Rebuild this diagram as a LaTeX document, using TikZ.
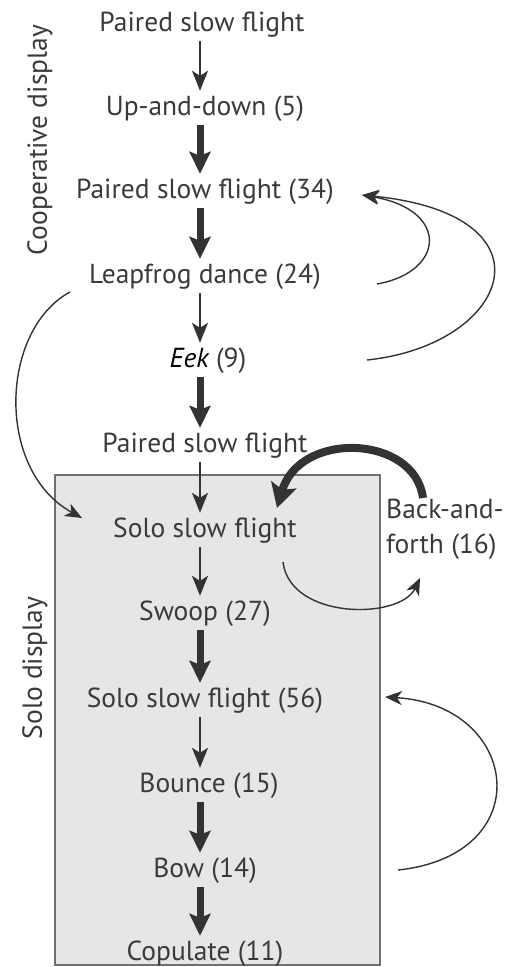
\documentclass[tikz,border=0pt]{standalone}
\usepackage{fontspec}
\setmainfont{PT Sans}
\usetikzlibrary{arrows.meta}
\definecolor{ink}{HTML}{333333}
\definecolor{txt}{HTML}{3A3A3A}
\definecolor{boxfill}{HTML}{E6E6E6}
\definecolor{boxline}{HTML}{707070}
\begin{document}
\begin{tikzpicture}[x=1pt,y=-1pt,
  lbl/.style={font=\fontsize{27.5}{35}\selectfont, text=txt, inner sep=0pt,
    text height=18pt, text depth=6pt, anchor=base},
  side/.style={font=\fontsize{27.5}{35}\selectfont, text=txt, inner sep=0pt, rotate=90},
  thinarrow/.style={draw=ink, line width=1.4pt,
    -{Stealth[length=20pt,width=16pt,inset=5pt]}, shorten <=4pt, shorten >=6pt},
  thickarrow/.style={draw=ink, line width=7pt,
    -{Stealth[length=22pt,width=21pt,inset=4pt]}, shorten <=4pt, shorten >=6pt},
  loop/.style={draw=ink, line width=1.4pt,
    -{Stealth[length=17pt,width=14pt,inset=5pt]}},
  bigloop/.style={draw=ink, line width=8pt,
    -{Stealth[length=24pt,width=26pt,inset=5pt]}},
  region/.style={fill=boxfill, draw=boxline, line width=1.5pt}
]
\useasboundingbox (0,0) rectangle (522,967);
\path[region] (55,475) rectangle (380,965);

\node[lbl] (p0)  at (202,31)  {Paired slow flight};
\node[lbl] (up)  at (205,115) {Up-and-down (5)};
\node[lbl] (p34) at (205,198) {Paired slow flight (34)};
\node[lbl] (lf)  at (205,283) {Leapfrog dance (24)};
\node[lbl] (eek) at (208,367) {{\color{black}\itshape Eek} (9)};
\node[lbl] (p1)  at (205,452) {Paired slow flight};
\node[lbl] (solo) at (205,537) {Solo slow flight};
\node[lbl] (swoop) at (205,620) {Swoop (27)};
\node[lbl] (s56) at (205,707) {Solo slow flight (56)};
\node[lbl] (bounce) at (209,792) {Bounce (15)};
\node[lbl] (bow) at (205,877) {Bow (14)};
\node[lbl] (cop) at (205,960) {Copulate (11)};
\node[lbl, anchor=north west, align=left, text height=, text depth=] (back) at (386,499) {Back-and-\\forth (16)};

\node[side] (coop) at (40,140) {Cooperative display};
\node[side] (solod) at (35,668) {Solo display};

\draw[thinarrow]  ([xshift=-2pt]p0.south) -- ([xshift=-5pt]up.north);
\draw[thickarrow] ([xshift=-5pt]up.south) -- ([xshift=-5pt]p34.north);
\draw[thickarrow] ([xshift=-5pt]p34.south) -- ([xshift=-5pt]lf.north);
\draw[thinarrow]  ([xshift=-5pt]lf.south) -- ([xshift=-8pt]eek.north);
\draw[thickarrow] ([xshift=-8pt]eek.south) -- ([xshift=-5pt]p1.north);
\draw[thinarrow]  ([xshift=-5pt]p1.south) -- ([xshift=-5pt]solo.north);
\draw[thinarrow]  ([xshift=-5pt]solo.south) -- ([xshift=-5pt]swoop.north);
\draw[thickarrow] ([xshift=-5pt]swoop.south) -- ([xshift=-5pt]s56.north);
\draw[thinarrow]  ([xshift=-5pt]s56.south) -- ([xshift=-9pt]bounce.north);
\draw[thickarrow] ([xshift=-9pt]bounce.south) -- ([xshift=-5pt]bow.north);
\draw[thickarrow] ([xshift=-5pt]bow.south) -- ([xshift=-5pt]cop.north);

\draw[loop] ([shift={(172,1)}]lf.base) .. controls +(68,-12) and +(88,15) .. ([shift={(157,-3)}]p34.base);
\draw[loop] ([shift={(159,-7)}]eek.base) .. controls +(143,-15) and +(198,20) .. ([shift={(157,-3)}]p34.base);
\draw[loop] ([shift={(-135,9)}]lf.base) .. controls +(-70,38) and +(-87,-48) .. ([shift={(-123,-19)}]solo.base);
\draw[bigloop] ([shift={(37,-1)}]back.north west) .. controls +(-8,-63) and +(23,-78) .. ([shift={(72,-29)}]solo.base);
\draw[loop] ([shift={(78,25)}]solo.base) .. controls +(7,58) and +(-20,42) .. ([shift={(34,79)}]back.north west);
\draw[loop] ([shift={(193,-7)}]bow.base) .. controls +(142,-15) and +(135,8) .. ([shift={(180,-10)}]s56.base);
\end{tikzpicture}
\end{document}
